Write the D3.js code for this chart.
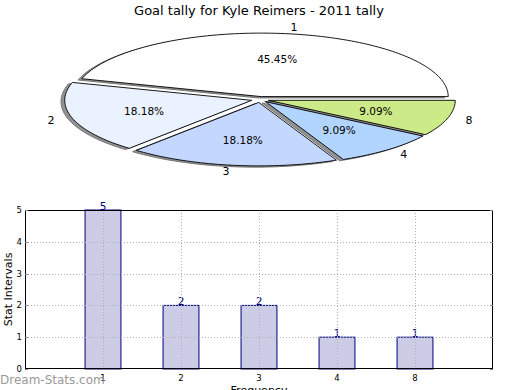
<!DOCTYPE html>
<html>
<head>
<meta charset="utf-8">
<script src="https://cdn.jsdelivr.net/npm/d3@7"></script>
<style>
  body { margin: 0; background: #fff; }
  svg { display: block; font-family: "DejaVu Sans", sans-serif; }
</style>
</head>
<body>
<svg id="chart" width="520" height="390"></svg>
<script>
const categories = ['1', '2', '3', '4', '8']
const tally = [5, 2, 2, 1, 1]
const sliceColors = ['#ffffff', '#eaf1ff', '#c4d7ff', '#b2d5ff', '#cdea88']
const yTicks = [0, 1, 2, 3, 4, 5]

const svg = d3.select('#chart')

// ---- pie (matplotlib style, squashed + exploded + shadow) ----
const cx = 260, cy = 99.5, rx = 187, ry = 63.5
const explode = 0.046

const total = d3.sum(tally)
const pie = d3.pie().sort(null).startAngle(0).endAngle(2 * Math.PI)
const slices = pie(tally).map((s, i) => {
  const mid = (s.startAngle + s.endAngle) / 2
  return {
    ...s,
    label: categories[i],
    color: sliceColors[i],
    mid: mid,
    ox: explode * rx * Math.cos(mid),
    oy: -explode * ry * Math.sin(mid)
  }
})

const line = d3.line()

function wedgePath(d, dx, dy) {
  const x0 = cx + d.ox + dx, y0 = cy + d.oy + dy
  const n = Math.max(8, Math.ceil((d.endAngle - d.startAngle) * 40))
  const pts = [[x0, y0]]
  d3.range(n + 1).forEach(k => {
    const a = d.startAngle + (d.endAngle - d.startAngle) * k / n
    pts.push([x0 + rx * Math.cos(a), y0 - ry * Math.sin(a)])
  })
  return line(pts) + 'Z'
}

const pieG = svg.append('g')

pieG.selectAll('path.shadow')
  .data(slices)
  .enter().append('path')
  .attr('class', 'shadow')
  .attr('d', d => wedgePath(d, -0.02 * rx, 0.02 * ry))
  .attr('fill', '#777')
  .attr('fill-opacity', 0.8)
  .attr('stroke', '#777')
  .attr('stroke-width', 1)

pieG.selectAll('path.wedge')
  .data(slices)
  .enter().append('path')
  .attr('class', 'wedge')
  .attr('d', d => wedgePath(d, 0, 0))
  .attr('fill', d => d.color)
  .attr('stroke', '#000')
  .attr('stroke-width', 0.9)
  .attr('stroke-linejoin', 'round')

pieG.selectAll('text.plabel')
  .data(slices)
  .enter().append('text')
  .attr('class', 'plabel')
  .attr('x', d => cx + d.ox + 1.1 * rx * Math.cos(d.mid))
  .attr('y', d => cy + d.oy - 1.1 * ry * Math.sin(d.mid))
  .attr('dy', '0.35em')
  .attr('text-anchor', d => Math.cos(d.mid) > 0 ? 'start' : 'end')
  .attr('font-size', 11)
  .text(d => d.label)

pieG.selectAll('text.pct')
  .data(slices)
  .enter().append('text')
  .attr('class', 'pct')
  .attr('x', d => cx + d.ox + 0.6 * rx * Math.cos(d.mid))
  .attr('y', d => cy + d.oy - 0.6 * ry * Math.sin(d.mid))
  .attr('dy', '0.35em')
  .attr('text-anchor', 'middle')
  .attr('font-size', 10.5)
  .text(d => (d.value / total * 100).toFixed(2) + '%')

svg.append('text')
  .attr('x', 259).attr('y', 15)
  .attr('text-anchor', 'middle')
  .attr('font-size', 13)
  .text('Goal tally for Kyle Reimers - 2011 tally')

// ---- bar chart ----
const box = { left: 25, right: 493, top: 210, bottom: 369 }

const x = d3.scaleLinear().domain([0, categories.length + 1]).range([box.left, box.right])
const y = d3.scaleLinear().domain([0, 5]).range([box.bottom, box.top])
const barW = x(0.46) - x(0)

const barG = svg.append('g')

barG.selectAll('rect.bar')
  .data(tally)
  .enter().append('rect')
  .attr('class', 'bar')
  .attr('x', (d, i) => x(i + 1) - barW / 2)
  .attr('y', d => y(d))
  .attr('width', barW)
  .attr('height', d => y(0) - y(d))
  .attr('fill', '#ccccE6')
  .attr('stroke', '#000080')
  .attr('stroke-width', 1)

// grid (drawn over bars like the original)
const grid = svg.append('g')
  .attr('stroke', '#b0b0b0')
  .attr('stroke-width', 1)
  .attr('stroke-dasharray', '1,2')

grid.selectAll('line.gy')
  .data(yTicks.slice(1, -1))
  .enter().append('line')
  .attr('x1', box.left).attr('x2', box.right)
  .attr('y1', d => Math.round(y(d)) + 0.5).attr('y2', d => Math.round(y(d)) + 0.5)

grid.selectAll('line.gx')
  .data(categories)
  .enter().append('line')
  .attr('x1', (d, i) => Math.round(x(i + 1)) + 0.5).attr('x2', (d, i) => Math.round(x(i + 1)) + 0.5)
  .attr('y1', box.top).attr('y2', box.bottom)

barG.selectAll('text.val')
  .data(tally)
  .enter().append('text')
  .attr('class', 'val')
  .attr('x', (d, i) => x(i + 1))
  .attr('y', d => y(d) - 0.5)
  .attr('text-anchor', 'middle')
  .attr('font-size', 10.5)
  .attr('fill', '#000080')
  .text(d => d)

// frame
svg.append('rect')
  .attr('x', box.left + 0.5).attr('y', box.top + 0.5)
  .attr('width', box.right - box.left - 1).attr('height', box.bottom - box.top - 1)
  .attr('fill', 'none')
  .attr('stroke', '#000')
  .attr('stroke-width', 1)

// ticks
const tickG = svg.append('g').attr('stroke', '#888').attr('stroke-width', 1)
tickG.selectAll('line.tl').data(yTicks).enter().append('line')
  .attr('x1', box.left).attr('x2', box.left + 3)
  .attr('y1', d => Math.round(y(d)) + 0.5).attr('y2', d => Math.round(y(d)) + 0.5)
tickG.selectAll('line.tr').data(yTicks).enter().append('line')
  .attr('x1', box.right - 3).attr('x2', box.right)
  .attr('y1', d => Math.round(y(d)) + 0.5).attr('y2', d => Math.round(y(d)) + 0.5)

svg.append('g').selectAll('text')
  .data(yTicks)
  .enter().append('text')
  .attr('x', box.left - 3)
  .attr('y', d => y(d))
  .attr('dy', '0.35em')
  .attr('text-anchor', 'end')
  .attr('font-size', 8.5)
  .text(d => d)

svg.append('g').selectAll('text')
  .data(categories)
  .enter().append('text')
  .attr('x', (d, i) => x(i + 1))
  .attr('y', box.bottom + 12)
  .attr('text-anchor', 'middle')
  .attr('font-size', 8.5)
  .text(d => d)

svg.append('text')
  .attr('transform', `translate(12, ${(box.top + box.bottom) / 2}) rotate(-90)`)
  .attr('text-anchor', 'middle')
  .attr('font-size', 11)
  .text('Stat Intervals')

svg.append('text')
  .attr('x', (box.left + box.right) / 2)
  .attr('y', box.bottom + 25)
  .attr('text-anchor', 'middle')
  .attr('font-size', 11)
  .text('Frequency')

svg.append('text')
  .attr('x', 0)
  .attr('y', 384)
  .attr('font-size', 12)
  .attr('fill', '#999')
  .text('Dream-Stats.com')
</script>
</body>
</html>
